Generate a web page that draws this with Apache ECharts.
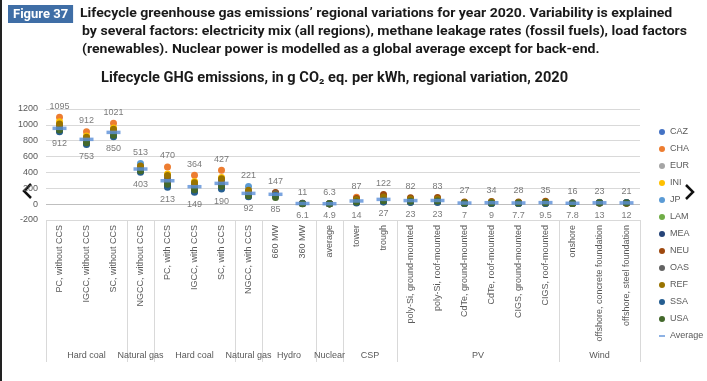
<!DOCTYPE html>
<html><head><meta charset="utf-8">
<script src="https://cdn.jsdelivr.net/npm/echarts@6/dist/echarts.min.js"></script>
<style>html,body{margin:0;padding:0;background:#fff}#c{width:707px;height:381px}</style>
</head><body><div id="c"></div>
<script>
const categories = ['PC, without CCS','IGCC, without CCS','SC, without CCS','NGCC, without CCS','PC, with CCS','IGCC, with CCS','SC, with CCS','NGCC, with CCS','660 MW','360 MW','average','tower','trough','poly-Si, ground-mounted','poly-Si, roof-mounted','CdTe, ground-mounted','CdTe, roof-mounted','CIGS, ground-mounted','CIGS, roof-mounted','onshore','offshore, concrete foundation','offshore, steel foundation'];
const groups = ['Hard coal','Natural gas','Hard coal','Natural gas','Hydro','Nuclear','CSP','PV','Wind'];
const groupSizes = [3,1,3,1,2,1,2,6,3];
const yTicks = {min:-200, max:1200, interval:200};

const CAZ = [930,770,870,430,240,170,215,115,120,8,5.2,40,55,50,52,15,19,16,20,10,15,14];
const CHA = [1095,912,1021,450,470,364,427,140,135,10,6.0,87,100,45,46,13,17,14,18,12,20,18];
const EUR = [950,790,885,440,270,195,240,130,125,7.5,5.1,45,65,60,62,19,24,20,25,11,14,13];
const INI = [1040,860,960,445,380,285,335,135,130,9.5,6.3,35,50,30,31,9,11,10,12,14,23,21];
const JP  = [945,785,880,513,265,190,235,221,128,8.5,5.6,55,80,55,56,17,21,18,22,13,19,17];
const LAM = [960,800,895,425,290,210,260,110,100,6.5,5.0,25,38,28,29,8.5,10.5,9,11,8.5,17,15];
const MEA = [925,765,860,415,230,160,205,100,140,11,5.8,20,30,25,25,7.5,9.5,8,10,9,18,16];
const NEU = [955,795,890,435,275,200,245,125,147,7,5.3,70,122,82,83,27,34,28,35,9.5,13,12];
const OAS = [990,830,925,470,330,245,300,160,132,9,5.9,40,60,35,36,11,14,12,15,16,21,19];
const REF = [1010,845,945,480,360,270,320,175,118,8,5.4,60,90,65,66,21,26,22,27,12.5,16,14.5];
const SSA = [912,753,850,403,213,149,190,92,110,7.2,5.5,14,27,23,23,7,9,7.7,9.5,11.5,22,20];
const USA = [935,775,870,420,250,180,225,105,85,6.1,4.9,28,42,38,39,12,15,13,16,7.8,14.5,13.5];
const average = [956,817,905,443,295,220,262,136,124,8,5.5,40,60,45,46,14,18,15,19,11,17,16];
const maxLabels = [1095,912,1021,513,470,364,427,221,147,11,6.3,87,122,82,83,27,34,28,35,16,23,21];
const minLabels = [912,753,850,403,213,149,190,92,85,6.1,4.9,14,27,23,23,7,9,7.7,9.5,7.8,13,12];

const regionNames = ['CAZ','CHA','EUR','INI','JP','LAM','MEA','NEU','OAS','REF','SSA','USA'];
const regionData = [CAZ,CHA,EUR,INI,JP,LAM,MEA,NEU,OAS,REF,SSA,USA];
const regionColors = ['#4472C4','#ED7D31','#A5A5A5','#FFC000','#5B9BD5','#70AD47','#264478','#9E480E','#636363','#997300','#255E91','#43682B'];
const avgColor = '#5a8fd8';

const titleLines = ['Lifecycle greenhouse gas emissions’ regional variations for year 2020. Variability is explained',
  'by several factors: electricity mix (all regions), methane leakage rates (fossil fuels), load factors',
  '(renewables). Nuclear power is modelled as a global average except for back-end.'];
const subtitle = 'Lifecycle GHG emissions, in g CO\u2082 eq. per kWh, regional variation, 2020';

// half-slot axis for group labels and separators
const nSlots = categories.length*2 + 1;
const groupSlots = new Array(nSlots).fill('');
const boundarySet = new Set([0]);
let start = 0;
groups.forEach((g,i)=>{
  groupSlots[2*start + groupSizes[i]] = g;
  start += groupSizes[i];
  boundarySet.add(2*start);
});

const txt = '#595959';
const ff = "'Liberation Sans', Arial, sans-serif";
const titleFont = "bold 13px Roboto, 'Noto Sans', sans-serif";
const subFont = "bold 14px Roboto, 'Noto Sans', sans-serif";

const mctx = document.createElement('canvas').getContext('2d');
function measure(t, font){ mctx.font = font; return mctx.measureText(t).width; }
const titleScale = 605 / measure(titleLines[1], titleFont);
const subScale = 467 / measure(subtitle, subFont);

const series = regionNames.map((n,i)=>({
  name:n, type:'scatter', data:regionData[i], symbolSize:7,
  itemStyle:{color:regionColors[i], opacity:1}, silent:true
}));
series.push({name:'Average', type:'scatter', data:average, symbol:'rect', symbolSize:[14,3.5],
  itemStyle:{color:avgColor}, z:3});
series.push({name:'max', type:'scatter', data:maxLabels, symbolSize:1, itemStyle:{color:'transparent'},
  label:{show:true, position:'top', distance:6, fontSize:9, color:txt, fontFamily:ff, formatter:p=>String(p.value)}, z:4});
series.push({name:'min', type:'scatter', data:minLabels, symbolSize:1, itemStyle:{color:'transparent'},
  label:{show:true, position:'bottom', distance:7, fontSize:9, color:txt, fontFamily:ff, formatter:p=>String(p.value)}, z:4});

const splitColors = [];
for (let v=yTicks.min; v<=yTicks.max; v+=yTicks.interval) splitColors.push(v===0?'#bfbfbf':'#d9d9d9');

const titleGraphics = titleLines.map((t,i)=>({
  type:'text', x:i===0?80:82, y:14+18*i, scaleX:titleScale,
  style:{text:t, font:titleFont, fill:'#1a1a1a', verticalAlign:'middle', align:'left'}
}));
titleGraphics.push({type:'text', x:101, y:78, scaleX:subScale,
  style:{text:subtitle, font:subFont, fill:'#1a1a1a', verticalAlign:'middle', align:'left'}});

const chart = echarts.init(document.getElementById('c'), null, {renderer:'canvas'});
chart.setOption({
  animation:false,
  backgroundColor:'#fff',
  textStyle:{fontFamily:ff},
  title:[
    {text:'Figure 37', left:8, top:5, padding:[2,5,1,5], backgroundColor:'#3f6ea6',
     textStyle:{color:'#fff', fontSize:13, fontWeight:'bold', fontFamily:"Roboto, sans-serif", lineHeight:15}}
  ],
  legend:{
    orient:'vertical', left:654, top:121, itemWidth:6, itemHeight:6, itemGap:5,
    textStyle:{fontSize:9, color:txt, fontFamily:ff, lineHeight:12},
    data: regionNames.map(n=>({name:n, icon:'circle'})).concat([{name:'Average', icon:'path://M0,0h7v2h-7z'}])
  },
  grid:{left:46, right:67, top:109, bottom:161},
  xAxis:[
    {type:'category', data:categories, position:'bottom', axisLine:{show:false}, axisTick:{show:false},
     axisLabel:{interval:0, rotate:90, fontSize:9, color:txt, margin:5, fontFamily:ff}},
    {type:'category', data:groupSlots, boundaryGap:false, position:'bottom', offset:0,
     axisLine:{show:false},
     axisTick:{show:true, length:142, interval:(i)=>boundarySet.has(i), lineStyle:{color:'#d9d9d9'}},
     axisLabel:{interval:0, fontSize:9, color:txt, margin:131, fontFamily:ff}}
  ],
  yAxis:{type:'value', min:yTicks.min, max:yTicks.max, interval:yTicks.interval,
    axisLine:{show:false}, axisTick:{show:false},
    axisLabel:{fontSize:9, color:txt, margin:8, fontFamily:ff, formatter:v=>String(v)},
    splitLine:{show:true, lineStyle:{color:splitColors, width:1}}},
  graphic:[
    {type:'rect', shape:{x:0,y:0,width:2,height:381}, style:{fill:'#222'}},
    {type:'polyline', shape:{points:[[31,184],[24,191],[31,198]]}, style:{stroke:'#111', lineWidth:2.5, fill:null}},
    {type:'polyline', shape:{points:[[686,185],[693,192],[686,199]]}, style:{stroke:'#111', lineWidth:2.5, fill:null}}
  ].concat(titleGraphics),
  series:series
});
</script></body></html>
